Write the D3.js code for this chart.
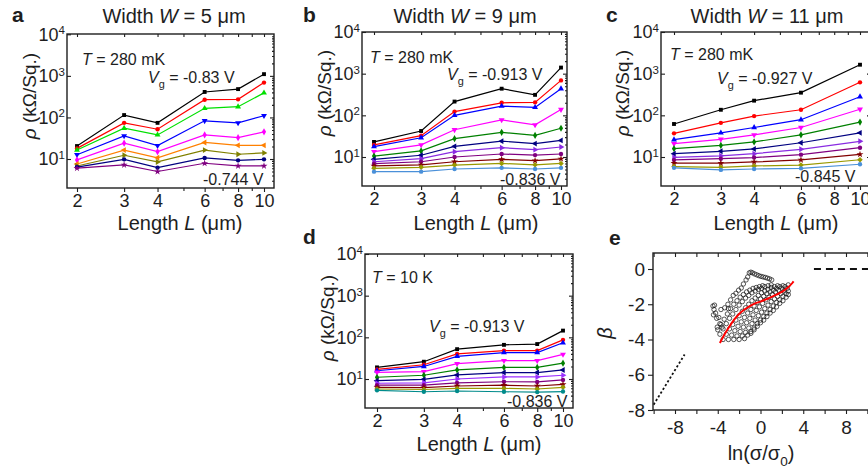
<!DOCTYPE html>
<html><head><meta charset="utf-8">
<script src="https://cdn.jsdelivr.net/npm/d3@7"></script>
<style>body{margin:0;background:#fff}</style>
</head><body>
<svg id="chart" width="868" height="470"></svg>
<script>
// ---------------- DATA ----------------
const lengthsFull = [2, 3, 4, 6, 8, 10];
const lengthsC = [2, 3, 4, 6, 10];
const xTickValues = [2, 3, 4, 6, 8, 10];
const xMinorValues = [5, 7, 9];
const yTickValues = [10, 100, 1000, 10000];

const colorsA = ["#000000", "#ff0000", "#00e000", "#0000ff", "#ff00ff", "#ff8000", "#808000", "#000080", "#800080"];
const colorsBC = ["#000000", "#ff0000", "#0000ff", "#ff00ff", "#008000", "#000080", "#8a2be2", "#800080", "#800000", "#999900", "#4a90d9"];
const colorsD = ["#000000", "#ff0000", "#0000ff", "#ff00ff", "#008000", "#000080", "#9b30ff", "#800080", "#800000", "#999900", "#008b8b"];

// panel a: W = 5 um, T = 280 mK (rho in kOhm/sq)
const rhoA = [
  [20.5, 114, 74, 410, 480, 1100],
  [18, 74, 52, 267, 272, 690],
  [16.4, 55, 38, 166, 181, 390],
  [12.7, 36, 21, 83, 74, 110],
  [9.5, 24, 15, 38, 32.6, 45],
  [7.6, 16.4, 10.7, 25, 21.3, 21.3],
  [6.8, 12.3, 8.5, 16.4, 13, 14],
  [6.4, 9.8, 6.2, 10.6, 9.3, 9.8],
  [6.0, 7.2, 5.0, 7.9, 6.8, 6.8]
];
// panel b: W = 9 um, T = 280 mK
const rhoB = [
  [23, 42, 214, 436, 310, 1400],
  [19.5, 32.5, 123, 200, 205, 690],
  [17.7, 29, 100, 167, 155, 435],
  [13.4, 19.5, 45, 78, 59, 138],
  [10.5, 14, 27.5, 39, 33, 49],
  [8.8, 11, 18, 24, 21, 25],
  [7.7, 9.1, 13.4, 16.7, 15, 17.4],
  [6.9, 7.7, 10, 11.8, 11.1, 11.8],
  [6.1, 6.5, 7.7, 8.8, 8.2, 9.0],
  [5.35, 5.65, 6.4, 7.0, 6.5, 7.0],
  [4.45, 4.45, 5.15, 5.5, 5.15, 5.5]
];
// panel c: W = 11 um, T = 280 mK
const rhoC = [
  [62, 136, 225, 350, 1640],
  [37, 66, 96, 136, 620],
  [26, 38, 51, 78.5, 280],
  [21, 26.6, 34, 51, 140],
  [15.8, 19, 23, 34, 69],
  [12, 13.7, 15.6, 22, 38],
  [9.8, 10.7, 12, 15.3, 23.8],
  [8.5, 9.1, 9.7, 11.4, 16.7],
  [7.1, 7.1, 7.6, 8.5, 11.6],
  [5.9, 5.65, 6.1, 6.4, 8.6],
  [5.5, 4.9, 5.15, 5.35, 6.7]
];
// panel d: W = 9 um, T = 10 K
const rhoD = [
  [19, 26, 52, 66, 69, 145],
  [17, 22, 40, 48, 48, 87],
  [15.8, 20, 35, 43, 43, 74],
  [14.5, 15, 23.4, 27.5, 27.5, 39],
  [11, 12.3, 16.5, 19, 19, 24],
  [9.1, 9.8, 12.5, 14.3, 14.3, 16.5],
  [7.9, 8.1, 10, 11.2, 11.2, 12.3],
  [7.1, 7.1, 8.1, 8.6, 8.5, 9.5],
  [6.3, 6.2, 6.8, 7.1, 6.8, 7.4],
  [5.75, 5.6, 5.95, 5.95, 5.75, 6.3],
  [5.35, 4.95, 5.15, 4.95, 4.85, 5.0]
];

// panel e: beta vs ln(sigma/sigma0)
const eXTicks = [-10, -8, -6, -4, -2, 0, 2, 4, 6, 8, 10];
const eXLabels = [-8, -4, 0, 4, 8];
const eYTicks = [0, -2, -4, -6, -8];
const betaChains = [
  [[-4.0,-3.45],[-3.7,-3.15],[-3.4,-2.85],[-3.1,-2.55],[-2.8,-2.25],[-2.5,-2.0],[-2.2,-1.8],[-1.9,-1.6],[-1.6,-1.45],[-1.3,-1.3],[-1.0,-1.2],[-0.7,-1.1],[-0.4,-1.05],[-0.1,-1.0],[0.2,-0.95]],
  [[-3.8,-3.7],[-3.5,-3.4],[-3.2,-3.1],[-2.9,-2.8],[-2.6,-2.55],[-2.3,-2.3],[-2.0,-2.05],[-1.7,-1.85],[-1.4,-1.65],[-1.1,-1.5],[-0.8,-1.35],[-0.5,-1.25],[-0.2,-1.15],[0.1,-1.1],[0.4,-1.0],[0.7,-0.95],[1.0,-0.9]],
  [[-3.5,-4.0],[-3.2,-3.7],[-2.9,-3.4],[-2.6,-3.15],[-2.3,-2.9],[-2.0,-2.65],[-1.7,-2.4],[-1.4,-2.2],[-1.1,-2.0],[-0.8,-1.8],[-0.5,-1.65],[-0.2,-1.5],[0.1,-1.35],[0.4,-1.25],[0.7,-1.15],[1.0,-1.05],[1.3,-1.0],[1.6,-0.95]],
  [[-3.0,-4.0],[-2.7,-3.75],[-2.4,-3.5],[-2.1,-3.25],[-1.8,-3.0],[-1.5,-2.75],[-1.2,-2.5],[-0.9,-2.3],[-0.6,-2.1],[-0.3,-1.9],[0.0,-1.7],[0.3,-1.55],[0.6,-1.4],[0.9,-1.3],[1.2,-1.2],[1.5,-1.1],[1.8,-1.0],[2.1,-0.95]],
  [[-2.5,-4.0],[-2.2,-3.8],[-1.9,-3.55],[-1.6,-3.3],[-1.3,-3.05],[-1.0,-2.8],[-0.7,-2.6],[-0.4,-2.35],[-0.1,-2.15],[0.2,-1.95],[0.5,-1.75],[0.8,-1.6],[1.1,-1.45],[1.4,-1.3],[1.7,-1.2],[2.0,-1.1],[2.3,-1.0],[2.6,-0.9]],
  [[-2.0,-4.0],[-1.7,-3.8],[-1.4,-3.6],[-1.1,-3.35],[-0.8,-3.1],[-0.5,-2.9],[-0.2,-2.65],[0.1,-2.45],[0.4,-2.25],[0.7,-2.05],[1.0,-1.85],[1.3,-1.7],[1.6,-1.55],[1.9,-1.4],[2.2,-1.25],[2.5,-1.1]],
  [[-1.5,-3.95],[-1.2,-3.75],[-0.9,-3.55],[-0.6,-3.35],[-0.3,-3.1],[0.0,-2.9],[0.3,-2.7],[0.6,-2.5],[0.9,-2.3],[1.2,-2.1],[1.5,-1.9],[1.8,-1.75],[2.1,-1.55],[2.4,-1.4],[2.6,-1.25]],
  [[-0.9,-3.65],[-0.6,-3.45],[-0.3,-3.25],[0.0,-3.05],[0.3,-2.9],[0.6,-2.7],[0.9,-2.5],[1.2,-2.35],[1.5,-2.15],[1.8,-1.95],[2.1,-1.8],[2.4,-1.6],[2.6,-1.45]],
  [[-1.2,-0.45],[-1.05,-0.22],[-0.9,-0.18],[-0.75,-0.22],[-0.55,-0.28],[-0.35,-0.33],[-0.15,-0.38],[0.05,-0.42],[0.25,-0.45],[0.45,-0.48],[0.65,-0.52],[0.85,-0.56],[1.05,-0.62]]
];
const betaSparse = [[-1.35,-0.62],[-1.6,-0.85],[-1.8,-1.08],[-2.05,-1.2],[-2.3,-1.38],[-2.55,-1.5],[-2.8,-1.75],[-3.05,-2.0],[-3.35,-2.2],[-3.0,-2.25],[-3.7,-2.3],[-4.3,-2.05],[-4.45,-2.1],[-4.35,-2.3],[-4.2,-2.5],[-4.4,-2.6],[-3.9,-2.75],[-4.1,-2.8],[-3.8,-3.1],[-4.05,-3.3],[-3.6,-3.3]];
const betaFit = [[-3.8,-4.2],[-3.4,-3.75],[-3.0,-3.35],[-2.5,-2.9],[-2.0,-2.55],[-1.5,-2.3],[-1.0,-2.1],[-0.5,-1.95],[0.0,-1.85],[0.5,-1.72],[1.0,-1.6],[1.5,-1.45],[2.0,-1.3],[2.5,-1.08],[3.0,-0.78],[3.1,-0.7]];
const weakLocLine = [[-10,-7.7],[-7.1,-4.85]];
const metalLine = [[5,0],[12,0]];

// ---------------- DRAWING ----------------
const FONT = '"Liberation Sans", Arial, Helvetica, sans-serif';
const INK = "#1e1e1e";
const svg = d3.select("#chart").attr("font-family", FONT);
svg.append("rect").attr("width", 868).attr("height", 470).attr("fill", "#fff");

const symbolSet = [
  {t: d3.symbolSquare, r: 0}, {t: d3.symbolCircle, r: 0}, {t: d3.symbolTriangle, r: 0},
  {t: d3.symbolTriangle, r: 180}, {t: d3.symbolDiamond, r: 0}, {t: d3.symbolTriangle, r: -90},
  {t: d3.symbolTriangle, r: 90}, {t: d3.symbolCircle, r: 0}, {t: d3.symbolStar, r: 0},
  {t: d3.symbolSquare, r: 45}, {t: d3.symbolCircle, r: 0}
];

function richText(parent, x, y, parts, size, anchor) {
  const t = parent.append("text").attr("x", x).attr("y", y).attr("font-size", size)
    .attr("fill", INK).attr("text-anchor", anchor || "start");
  let shifted = 0;
  parts.forEach(p => {
    const s = t.append("tspan").text(p.t);
    if (p.i) s.attr("font-style", "italic");
    if (p.b) s.attr("font-weight", "bold");
    if (p.sub) { s.attr("font-size", size * 0.68).attr("dy", size * 0.3); shifted = size * 0.3; }
    else if (shifted) { s.attr("dy", -shifted); shifted = 0; }
  });
  return t;
}
function rotLabel(cx, cy, parts, size) {
  const g = svg.append("g").attr("transform", `translate(${cx},${cy}) rotate(-90)`);
  richText(g, 0, 0, parts, size, "middle").attr("dy", "0.35em");
}
function styleAxis(s, size) {
  s.select(".domain").remove();
  s.attr("font-size", size).attr("font-family", FONT);
  s.selectAll("line").attr("stroke", INK).attr("stroke-width", 1.1);
  s.selectAll("text").attr("fill", INK);
}

function logPanel(p) {
  const g = svg.append("g");
  const x = d3.scaleLog().domain([2, 10]).range(p.xr);
  const y = d3.scaleLog().domain([10, 1e4]).range(p.yr);
  const [fx0, fx1, fy0, fy1] = p.frame;
  const line = d3.line().x(d => x(d[0])).y(d => y(d[1]));
  p.data.forEach((vals, i) => {
    const pts = p.lengths.map((L, j) => [L, vals[j]]);
    g.append("path").datum(pts).attr("d", line).attr("fill", "none")
      .attr("stroke", p.colors[i]).attr("stroke-width", 1.2);
    const sym = symbolSet[i % symbolSet.length];
    g.append("g").selectAll("path").data(pts).join("path")
      .attr("transform", d => `translate(${x(d[0])},${y(d[1])}) rotate(${sym.r})`)
      .attr("d", d3.symbol(sym.t, 15)).attr("fill", p.colors[i]);
  });
  // frame
  g.append("rect").attr("x", fx0).attr("y", fy0).attr("width", fx1 - fx0).attr("height", fy1 - fy0)
    .attr("fill", "none").attr("stroke", INK).attr("stroke-width", 1.4);
  // bottom axis
  g.append("g").attr("transform", `translate(0,${fy1})`)
    .call(d3.axisBottom(x).tickValues(xTickValues).tickFormat(d3.format("d")).tickSizeInner(4).tickSizeOuter(0).tickPadding(2))
    .call(s => styleAxis(s, 18));
  g.append("g").attr("transform", `translate(0,${fy1})`)
    .call(d3.axisBottom(x).tickValues(xMinorValues).tickFormat("").tickSizeInner(3).tickSizeOuter(0))
    .call(s => styleAxis(s, 18));
  // top axis (inward)
  g.append("g").attr("transform", `translate(0,${fy0})`)
    .call(d3.axisTop(x).tickValues(xTickValues.concat(xMinorValues)).tickFormat("").tickSizeInner(-3).tickSizeOuter(0))
    .call(s => styleAxis(s, 18));
  // left axis
  g.append("g").attr("transform", `translate(${fx0},0)`)
    .call(d3.axisLeft(y).tickValues(yTickValues).tickSizeInner(-4).tickSizeOuter(0).tickPadding(2))
    .call(s => {
      styleAxis(s, 18);
      s.selectAll(".tick text").each(function(d) {
        const t = d3.select(this);
        t.text("10");
        t.append("tspan").attr("dy", "-0.55em").attr("font-size", 11.5).text(Math.round(Math.log10(d)));
      });
    });
  // right axis (inward, with minor ticks)
  const minors = [];
  [1, 10, 100, 1000].forEach(dec => [2,3,4,5,6,7,8,9].forEach(m => minors.push(m * dec)));
  g.append("g").attr("transform", `translate(${fx1},0)`)
    .call(d3.axisRight(y).tickValues(yTickValues.filter(v => v < 1e4)).tickFormat("").tickSizeInner(-4).tickSizeOuter(0))
    .call(s => styleAxis(s, 18));
  g.append("g").attr("transform", `translate(${fx1},0)`)
    .call(d3.axisRight(y).tickValues(minors.filter(v => y(v) < fy1 && y(v) > fy0)).tickFormat("").tickSizeInner(-2).tickSizeOuter(0))
    .call(s => styleAxis(s, 18));
  // labels
  rotLabel(p.ylab[0], p.ylab[1], [{t: "ρ", i: 1}, {t: " (kΩ/Sq.)"}], 19);
  richText(svg, p.xlab[0], p.xlab[1], [{t: "Length "}, {t: "L", i: 1}, {t: " (μm)"}], 20, "middle");
  p.notes.forEach(n => richText(svg, n.x, n.y, n.parts, 16));
}

// panel letters & titles
richText(svg, 12, 22, [{t: "a", b: 1}], 21);
richText(svg, 303, 22, [{t: "b", b: 1}], 21);
richText(svg, 606, 22, [{t: "c", b: 1}], 21);
richText(svg, 303, 244, [{t: "d", b: 1}], 21);
richText(svg, 609, 245, [{t: "e", b: 1}], 21);
richText(svg, 174, 23, [{t: "Width "}, {t: "W", i: 1}, {t: " = 5 μm"}], 20, "middle");
richText(svg, 465, 23, [{t: "Width "}, {t: "W", i: 1}, {t: " = 9 μm"}], 20, "middle");
richText(svg, 767, 23, [{t: "Width "}, {t: "W", i: 1}, {t: " = 11 μm"}], 20, "middle");

logPanel({
  frame: [67, 274, 34, 188], xr: [77, 264], yr: [159, 34.3], data: rhoA, lengths: lengthsFull, colors: colorsA,
  ylab: [29, 96], xlab: [180, 230],
  notes: [
    {x: 82, y: 65, parts: [{t: "T", i: 1}, {t: " = 280 mK"}]},
    {x: 148, y: 83, parts: [{t: "V", i: 1}, {t: "g", sub: 1}, {t: " = -0.83 V"}]},
    {x: 203, y: 185, parts: [{t: "-0.744 V"}]}
  ]
});
logPanel({
  frame: [362, 567, 32, 186], xr: [374, 561], yr: [157, 32], data: rhoB, lengths: lengthsFull, colors: colorsBC,
  ylab: [324, 93], xlab: [476, 230],
  notes: [
    {x: 370, y: 63, parts: [{t: "T", i: 1}, {t: " = 280 mK"}]},
    {x: 447, y: 80, parts: [{t: "V", i: 1}, {t: "g", sub: 1}, {t: " = -0.913 V"}]},
    {x: 500, y: 185, parts: [{t: "-0.836 V"}]}
  ]
});
logPanel({
  frame: [661, 871, 32, 186], xr: [674, 860], yr: [157, 32], data: rhoC, lengths: lengthsC, colors: colorsBC,
  ylab: [622, 93], xlab: [776, 230],
  notes: [
    {x: 670, y: 60, parts: [{t: "T", i: 1}, {t: " = 280 mK"}]},
    {x: 717, y: 84, parts: [{t: "V", i: 1}, {t: "g", sub: 1}, {t: " = -0.927 V"}]},
    {x: 795, y: 182, parts: [{t: "-0.845 V"}]}
  ]
});
logPanel({
  frame: [365, 573, 254, 408], xr: [377, 563], yr: [379, 254], data: rhoD, lengths: lengthsFull, colors: colorsD,
  ylab: [327, 318], xlab: [479, 451],
  notes: [
    {x: 372, y: 283, parts: [{t: "T", i: 1}, {t: " = 10 K"}]},
    {x: 429, y: 332, parts: [{t: "V", i: 1}, {t: "g", sub: 1}, {t: " = -0.913 V"}]},
    {x: 507, y: 407, parts: [{t: "-0.836 V"}]}
  ]
});

// panel e
(function() {
  const frame = [653, 885, 253, 410];
  const x = d3.scaleLinear().domain([-8, 8]).range([675, 846]);
  const y = d3.scaleLinear().domain([-8, 0]).range([410, 269]);
  const g = svg.append("g");
  svg.append("clipPath").attr("id", "clipE").append("rect")
    .attr("x", frame[0]).attr("y", frame[2]).attr("width", frame[1] - frame[0]).attr("height", frame[3] - frame[2]);
  const inner = g.append("g").attr("clip-path", "url(#clipE)");
  const pts = betaChains.flat().concat(betaSparse);
  inner.append("g").selectAll("circle").data(pts).join("circle")
    .attr("cx", d => x(d[0])).attr("cy", d => y(d[1])).attr("r", 2.2)
    .attr("fill", "none").attr("stroke", "#111").attr("stroke-width", 0.7);
  const ln = d3.line().x(d => x(d[0])).y(d => y(d[1]));
  inner.append("path").datum(betaFit).attr("d", ln.curve(d3.curveMonotoneX)).attr("fill", "none")
    .attr("stroke", "#ff0000").attr("stroke-width", 2);
  const ln2 = d3.line().x(d => x(d[0])).y(d => y(d[1]));
  inner.append("path").datum(weakLocLine).attr("d", ln2).attr("stroke", "#111").attr("stroke-width", 1.8)
    .attr("stroke-dasharray", "2.2,2.2").attr("fill", "none");
  inner.append("path").datum(metalLine).attr("d", ln2).attr("stroke", "#111").attr("stroke-width", 1.8)
    .attr("stroke-dasharray", "7,5").attr("fill", "none");
  g.append("rect").attr("x", frame[0]).attr("y", frame[2]).attr("width", frame[1] - frame[0]).attr("height", frame[3] - frame[2])
    .attr("fill", "none").attr("stroke", INK).attr("stroke-width", 1.4);
  g.append("g").attr("transform", `translate(0,${frame[3]})`)
    .call(d3.axisBottom(x).tickValues(eXTicks).tickFormat(d => eXLabels.includes(d) ? String(d) : "").tickSizeInner(4).tickSizeOuter(0).tickPadding(7))
    .call(s => styleAxis(s, 19));
  g.append("g").attr("transform", `translate(0,${frame[2]})`)
    .call(d3.axisTop(x).tickValues(eXTicks).tickFormat("").tickSizeInner(-4).tickSizeOuter(0))
    .call(s => styleAxis(s, 19));
  g.append("g").attr("transform", `translate(${frame[0]},0)`)
    .call(d3.axisLeft(y).tickValues(eYTicks).tickFormat(d => String(d)).tickSizeInner(5).tickSizeOuter(0).tickPadding(3))
    .call(s => styleAxis(s, 19));
  richText(svg, 761, 460, [{t: "ln(σ/σ"}, {t: "0", sub: 1}, {t: ")"}], 20, "middle");
  rotLabel(605, 333, [{t: "β", i: 1}], 20);
})();
</script>
</body></html>
